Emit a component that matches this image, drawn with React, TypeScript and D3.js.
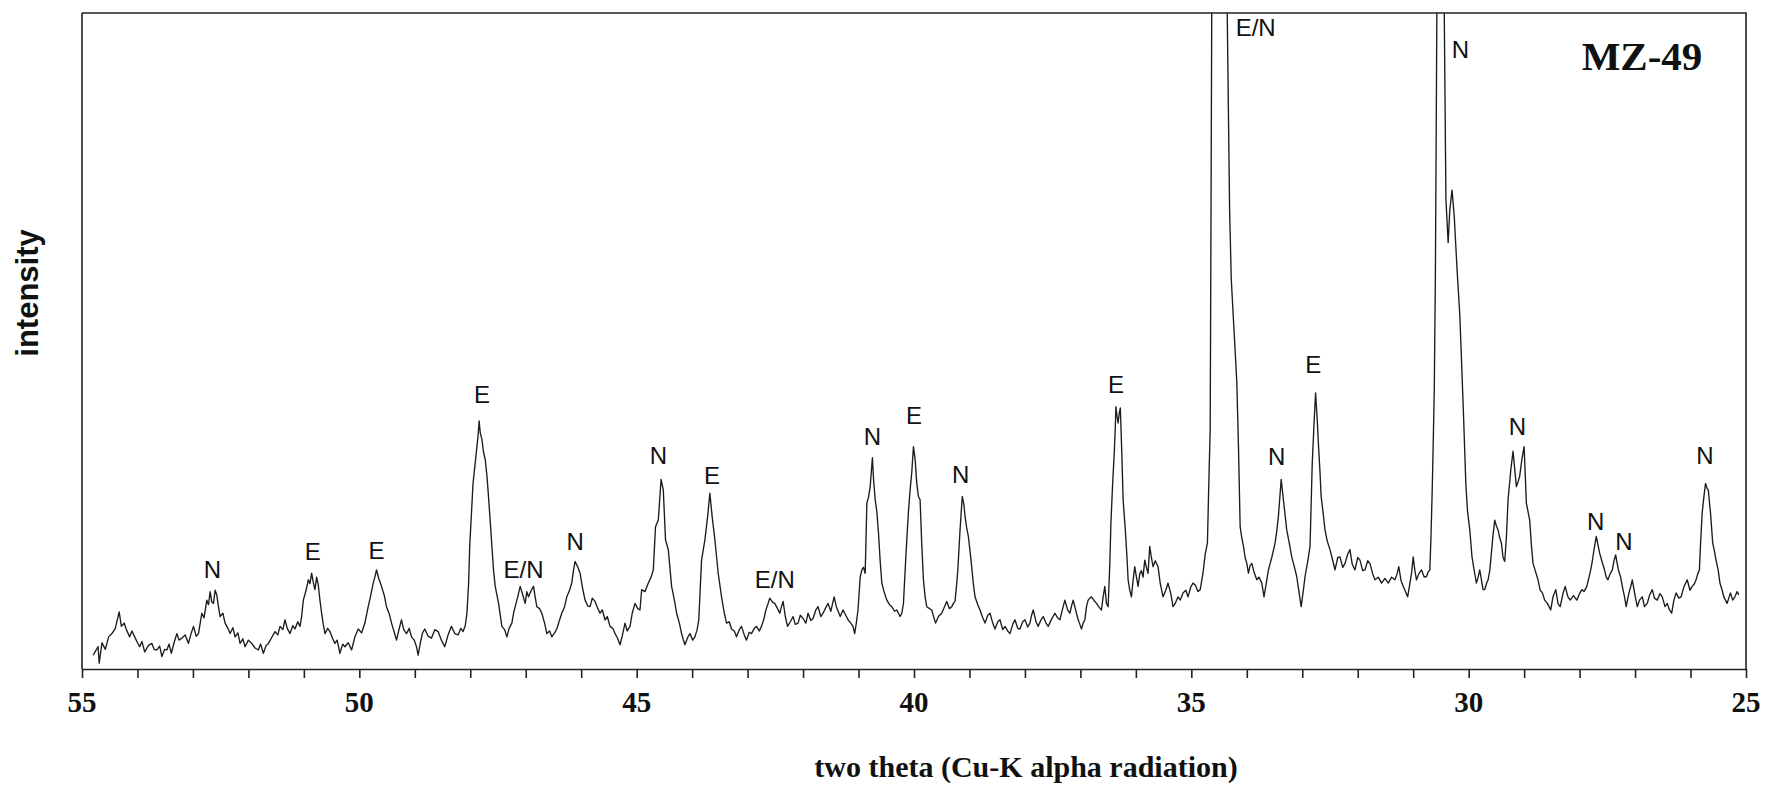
import { useRef, useEffect } from 'react';
import * as d3 from 'd3';

// diffractogram: [two theta, intensity (arb.)]
const scan: [number, number][] = [
  [54.80, 21], [54.71, 34], [54.69, 9], [54.64, 40], [54.58, 30], [54.52, 49], [54.46, 54], [54.40, 62],
  [54.33, 87], [54.29, 65], [54.24, 70], [54.20, 60], [54.14, 49], [54.10, 58], [54.05, 49], [54.00, 40],
  [53.96, 34], [53.92, 42], [53.87, 26], [53.80, 36], [53.74, 39], [53.70, 30], [53.65, 29], [53.60, 35],
  [53.56, 19], [53.51, 30], [53.47, 29], [53.43, 38], [53.39, 24], [53.34, 40], [53.29, 54], [53.25, 44],
  [53.20, 47], [53.14, 52], [53.08, 39], [53.03, 55], [52.99, 65], [52.94, 50], [52.90, 54], [52.84, 85],
  [52.80, 78], [52.75, 105], [52.72, 98], [52.69, 118], [52.66, 102], [52.63, 100], [52.60, 120], [52.57, 113],
  [52.54, 95], [52.51, 80], [52.46, 85], [52.42, 70], [52.37, 62], [52.33, 54], [52.28, 63], [52.24, 49],
  [52.19, 55], [52.15, 39], [52.10, 46], [52.06, 34], [52.00, 44], [51.94, 39], [51.88, 32], [51.82, 29],
  [51.78, 38], [51.73, 24], [51.68, 36], [51.64, 39], [51.58, 48], [51.52, 57], [51.47, 52], [51.43, 65],
  [51.38, 60], [51.34, 75], [51.30, 62], [51.25, 54], [51.20, 66], [51.16, 61], [51.11, 72], [51.07, 65],
  [51.04, 80], [51.01, 105], [50.96, 120], [50.92, 136], [50.89, 130], [50.86, 146], [50.83, 132], [50.80, 121],
  [50.77, 140], [50.74, 128], [50.71, 105], [50.68, 85], [50.65, 68], [50.62, 54], [50.57, 62], [50.53, 57],
  [50.48, 46], [50.44, 39], [50.40, 44], [50.35, 24], [50.30, 38], [50.26, 34], [50.20, 40], [50.14, 29],
  [50.08, 49], [50.02, 61], [49.96, 55], [49.90, 70], [49.84, 95], [49.80, 110], [49.75, 131], [49.72, 140],
  [49.69, 151], [49.65, 138], [49.60, 126], [49.55, 112], [49.51, 95], [49.46, 84], [49.42, 70], [49.37, 56],
  [49.33, 44], [49.28, 62], [49.24, 75], [49.20, 60], [49.15, 54], [49.10, 62], [49.06, 49], [49.01, 44],
  [48.97, 34], [48.94, 21], [48.90, 40], [48.86, 55], [48.82, 61], [48.76, 50], [48.70, 47], [48.64, 60],
  [48.58, 57], [48.52, 44], [48.46, 34], [48.40, 52], [48.34, 65], [48.28, 54], [48.22, 52], [48.17, 62],
  [48.13, 57], [48.09, 66], [48.06, 85], [48.03, 130], [48.01, 187], [47.98, 235], [47.95, 283], [47.91, 315],
  [47.88, 339], [47.86, 355], [47.84, 378], [47.82, 360], [47.79, 350], [47.76, 330], [47.73, 319], [47.70, 295],
  [47.68, 273], [47.64, 225], [47.61, 187], [47.58, 150], [47.55, 126], [47.49, 100], [47.43, 65], [47.38, 60],
  [47.34, 49], [47.30, 62], [47.25, 70], [47.22, 85], [47.19, 95], [47.15, 108], [47.10, 126], [47.05, 112],
  [47.01, 100], [46.98, 118], [46.95, 110], [46.90, 120], [46.86, 126], [46.83, 110], [46.80, 95], [46.75, 92],
  [46.71, 85], [46.66, 70], [46.62, 54], [46.57, 58], [46.53, 49], [46.48, 55], [46.44, 61], [46.40, 72],
  [46.35, 85], [46.30, 95], [46.26, 110], [46.21, 120], [46.17, 131], [46.14, 150], [46.11, 164], [46.06, 155],
  [46.02, 146], [45.98, 125], [45.93, 105], [45.88, 96], [45.84, 95], [45.80, 108], [45.75, 103], [45.70, 92],
  [45.66, 85], [45.62, 90], [45.57, 75], [45.53, 80], [45.48, 65], [45.43, 62], [45.39, 54], [45.35, 48],
  [45.30, 37], [45.26, 50], [45.21, 70], [45.17, 58], [45.12, 65], [45.08, 85], [45.03, 100], [44.98, 92],
  [44.94, 90], [44.91, 121], [44.85, 118], [44.79, 131], [44.74, 140], [44.70, 151], [44.66, 217], [44.61, 227],
  [44.56, 289], [44.52, 273], [44.48, 197], [44.43, 182], [44.37, 126], [44.32, 105], [44.28, 85], [44.23, 70],
  [44.19, 54], [44.16, 45], [44.13, 37], [44.08, 48], [44.04, 54], [43.99, 44], [43.95, 49], [43.91, 60],
  [43.88, 75], [43.83, 166], [43.77, 197], [43.72, 233], [43.68, 268], [43.64, 233], [43.59, 197], [43.53, 146],
  [43.47, 110], [43.42, 85], [43.38, 70], [43.33, 72], [43.29, 61], [43.24, 58], [43.20, 49], [43.15, 60],
  [43.11, 65], [43.06, 52], [43.02, 44], [42.97, 56], [42.93, 54], [42.88, 62], [42.84, 65], [42.79, 58],
  [42.75, 65], [42.71, 75], [42.67, 90], [42.63, 100], [42.60, 108], [42.55, 102], [42.51, 100], [42.46, 92],
  [42.42, 85], [42.39, 95], [42.36, 103], [42.32, 80], [42.28, 65], [42.23, 72], [42.18, 80], [42.14, 68],
  [42.09, 70], [42.05, 82], [42.00, 77], [41.95, 70], [41.91, 85], [41.86, 74], [41.82, 77], [41.77, 90],
  [41.73, 95], [41.68, 80], [41.64, 85], [41.60, 92], [41.55, 100], [41.50, 88], [41.44, 110], [41.40, 95],
  [41.33, 80], [41.28, 90], [41.23, 82], [41.19, 75], [41.14, 70], [41.10, 65], [41.07, 54], [41.04, 70],
  [41.01, 90], [40.97, 140], [40.94, 151], [40.91, 155], [40.88, 146], [40.85, 253], [40.82, 262], [40.79, 278],
  [40.77, 300], [40.75, 322], [40.73, 290], [40.70, 258], [40.67, 240], [40.64, 207], [40.61, 165], [40.58, 131],
  [40.53, 115], [40.49, 105], [40.44, 98], [40.40, 95], [40.35, 88], [40.31, 90], [40.28, 85], [40.25, 80],
  [40.22, 85], [40.19, 100], [40.16, 150], [40.13, 197], [40.10, 240], [40.07, 273], [40.04, 300], [40.01, 339],
  [39.98, 320], [39.95, 283], [39.92, 263], [39.89, 258], [39.86, 190], [39.83, 136], [39.80, 110], [39.77, 95],
  [39.72, 92], [39.68, 90], [39.64, 78], [39.61, 70], [39.56, 80], [39.50, 85], [39.45, 95], [39.41, 103],
  [39.36, 92], [39.32, 95], [39.29, 100], [39.26, 103], [39.23, 130], [39.21, 151], [39.17, 212], [39.13, 263],
  [39.10, 250], [39.08, 233], [39.05, 215], [39.02, 202], [38.99, 180], [38.96, 156], [38.93, 130], [38.90, 110],
  [38.85, 98], [38.81, 90], [38.76, 78], [38.72, 70], [38.67, 82], [38.63, 85], [38.58, 70], [38.54, 61],
  [38.49, 72], [38.45, 75], [38.40, 60], [38.36, 65], [38.31, 58], [38.27, 54], [38.22, 68], [38.18, 75],
  [38.13, 62], [38.09, 61], [38.04, 72], [38.00, 75], [37.95, 64], [37.91, 70], [37.88, 82], [37.85, 90],
  [37.80, 72], [37.76, 65], [37.71, 75], [37.67, 80], [37.62, 70], [37.58, 65], [37.52, 76], [37.46, 85],
  [37.41, 78], [37.37, 75], [37.32, 92], [37.28, 105], [37.23, 90], [37.19, 85], [37.16, 96], [37.13, 105],
  [37.08, 88], [37.04, 75], [37.01, 68], [36.98, 61], [36.95, 70], [36.92, 75], [36.89, 95], [36.86, 105],
  [36.83, 108], [36.80, 110], [36.75, 104], [36.71, 100], [36.66, 94], [36.62, 90], [36.59, 110], [36.56, 126],
  [36.53, 100], [36.50, 95], [36.47, 160], [36.45, 222], [36.42, 280], [36.39, 329], [36.37, 370], [36.36, 400],
  [36.34, 385], [36.32, 375], [36.30, 390], [36.28, 398], [36.25, 320], [36.23, 258], [36.21, 235], [36.19, 212],
  [36.16, 170], [36.14, 136], [36.11, 120], [36.08, 110], [36.05, 135], [36.02, 156], [35.99, 140], [35.96, 126],
  [35.93, 145], [35.90, 150], [35.87, 140], [35.84, 166], [35.81, 155], [35.78, 146], [35.75, 187], [35.72, 170],
  [35.69, 156], [35.65, 165], [35.60, 156], [35.56, 130], [35.51, 110], [35.46, 120], [35.42, 131], [35.37, 115],
  [35.33, 95], [35.29, 100], [35.24, 110], [35.20, 105], [35.15, 116], [35.10, 120], [35.06, 110], [35.01, 125],
  [34.97, 131], [34.93, 128], [34.88, 118], [34.84, 121], [34.79, 146], [34.75, 175], [34.71, 192], [34.68, 300],
  [34.66, 365], [34.645, 700], [34.63, 1050], [34.55, 1500], [34.45, 1500], [34.36, 1050], [34.31, 700], [34.28, 594],
  [34.22, 500], [34.18, 437], [34.15, 339], [34.12, 217], [34.09, 200], [34.06, 187], [34.03, 170], [34.00, 161],
  [33.97, 146], [33.94, 158], [33.91, 161], [33.87, 148], [33.82, 136], [33.78, 140], [33.73, 131], [33.69, 110],
  [33.65, 130], [33.61, 151], [33.55, 170], [33.49, 192], [33.46, 210], [33.43, 233], [33.38, 289], [33.34, 258],
  [33.31, 235], [33.28, 212], [33.23, 190], [33.19, 171], [33.14, 155], [33.10, 141], [33.06, 118], [33.02, 95],
  [32.98, 120], [32.95, 141], [32.90, 165], [32.86, 187], [32.84, 250], [32.82, 314], [32.79, 370], [32.76, 421],
  [32.73, 380], [32.71, 345], [32.68, 300], [32.66, 263], [32.62, 235], [32.59, 212], [32.55, 195], [32.50, 182],
  [32.45, 165], [32.41, 151], [32.36, 170], [32.32, 171], [32.27, 155], [32.23, 161], [32.18, 175], [32.14, 182],
  [32.10, 160], [32.05, 151], [32.00, 170], [31.96, 166], [31.91, 150], [31.87, 151], [31.82, 165], [31.78, 161],
  [31.73, 145], [31.69, 136], [31.63, 140], [31.57, 131], [31.51, 138], [31.45, 131], [31.39, 140], [31.33, 136],
  [31.29, 145], [31.26, 156], [31.22, 135], [31.18, 126], [31.14, 118], [31.10, 110], [31.06, 130], [31.03, 146],
  [31.00, 171], [30.97, 150], [30.94, 136], [30.90, 145], [30.85, 151], [30.80, 140], [30.76, 141], [30.73, 148],
  [30.70, 151], [30.68, 200], [30.66, 263], [30.64, 340], [30.62, 426], [30.60, 600], [30.58, 900], [30.56, 1200],
  [30.50, 1400], [30.46, 1150], [30.44, 1000], [30.41, 716], [30.37, 650], [30.34, 700], [30.30, 730], [30.26, 690],
  [30.21, 610], [30.16, 540], [30.12, 450], [30.09, 380], [30.05, 280], [30.02, 240], [29.98, 212], [29.94, 171],
  [29.90, 150], [29.86, 131], [29.83, 140], [29.80, 151], [29.77, 136], [29.74, 121], [29.71, 121], [29.68, 130],
  [29.65, 136], [29.62, 150], [29.59, 177], [29.56, 205], [29.53, 227], [29.50, 218], [29.47, 212], [29.44, 200],
  [29.41, 192], [29.38, 170], [29.35, 164], [29.32, 200], [29.29, 258], [29.26, 285], [29.24, 304], [29.20, 332],
  [29.17, 305], [29.14, 278], [29.11, 285], [29.08, 294], [29.04, 320], [29.00, 339], [28.96, 253], [28.93, 240],
  [28.90, 227], [28.87, 190], [28.84, 161], [28.80, 150], [28.75, 136], [28.71, 120], [28.67, 116], [28.63, 105],
  [28.58, 100], [28.55, 95], [28.52, 90], [28.48, 110], [28.43, 121], [28.39, 100], [28.35, 95], [28.30, 115],
  [28.26, 126], [28.21, 110], [28.17, 105], [28.11, 112], [28.05, 105], [28.00, 115], [27.96, 121], [27.92, 118],
  [27.87, 126], [27.83, 140], [27.80, 151], [27.77, 165], [27.74, 182], [27.70, 202], [27.67, 190], [27.64, 177],
  [27.60, 165], [27.55, 151], [27.52, 140], [27.49, 136], [27.45, 145], [27.41, 151], [27.38, 165], [27.35, 174],
  [27.32, 160], [27.30, 151], [27.26, 140], [27.23, 126], [27.19, 110], [27.16, 95], [27.13, 108], [27.11, 116],
  [27.08, 125], [27.05, 136], [27.00, 112], [26.96, 95], [26.92, 105], [26.87, 110], [26.83, 95], [26.78, 100],
  [26.74, 112], [26.69, 121], [26.65, 108], [26.60, 105], [26.55, 115], [26.51, 110], [26.46, 95], [26.42, 100],
  [26.38, 90], [26.34, 85], [26.30, 105], [26.26, 116], [26.21, 108], [26.17, 110], [26.12, 125], [26.06, 136],
  [26.01, 120], [25.97, 126], [25.93, 130], [25.90, 136], [25.87, 145], [25.84, 151], [25.82, 190], [25.79, 238],
  [25.76, 262], [25.73, 283], [25.70, 275], [25.68, 273], [25.66, 255], [25.64, 238], [25.62, 215], [25.60, 192],
  [25.57, 180], [25.54, 166], [25.50, 150], [25.47, 131], [25.43, 120], [25.40, 110], [25.37, 105], [25.34, 100],
  [25.31, 108], [25.28, 116], [25.24, 105], [25.20, 110], [25.16, 118], [25.13, 113],
];

// phase labels: [text, two theta, intensity of baseline]
const peakLabels: [string, number, number][] = [
  ['N', 52.65, 138], ['E', 50.84, 166], ['E', 49.69, 167], ['E', 47.79, 406], ['E/N', 47.04, 138],
  ['N', 46.11, 182], ['N', 44.61, 313], ['E', 43.64, 282], ['E/N', 42.51, 123], ['N', 40.75, 342],
  ['E', 40.0, 373], ['N', 39.16, 284], ['E', 36.36, 420], ['E/N', 33.84, 965], ['N', 33.46, 311],
  ['E', 32.8, 451], ['N', 30.15, 932], ['N', 29.12, 357], ['N', 27.71, 212], ['N', 27.2, 182],
  ['N', 25.74, 313],
];

const majorTicks = [55, 50, 45, 40, 35, 30, 25];
const sampleName = 'MZ-49';
const xTitle = 'two theta (Cu-K alpha radiation)';
const yTitle = 'intensity';

export default function App() {
  const svgRef = useRef<SVGSVGElement>(null);

  useEffect(() => {
    const width = 1769;
    const height = 785;
    const margin = { top: 13, right: 23, bottom: 116, left: 82 };

    const svg = d3.select(svgRef.current);
    svg.selectAll('*').remove();

    const x = d3.scaleLinear()
      .domain([55, 25])
      .range([margin.left, width - margin.right]);

    const y = d3.scaleLinear()
      .domain([0, 1000])
      .range([height - margin.bottom, margin.top]);

    const bottom = height - margin.bottom;

    svg.append('defs').append('clipPath')
      .attr('id', 'plot-clip')
      .append('rect')
      .attr('x', margin.left)
      .attr('y', margin.top)
      .attr('width', width - margin.left - margin.right)
      .attr('height', bottom - margin.top);

    // frame: top and right edges
    svg.append('path')
      .attr('d', `M${margin.left},${margin.top}H${width - margin.right}V${bottom}`)
      .attr('fill', 'none')
      .attr('stroke', '#222')
      .attr('stroke-width', 1.6);

    // y axis line (no ticks)
    svg.append('line')
      .attr('x1', margin.left).attr('x2', margin.left)
      .attr('y1', margin.top).attr('y2', bottom)
      .attr('stroke', '#222')
      .attr('stroke-width', 1.6);

    // x axis with a tick every degree
    const xAxis = svg.append('g')
      .attr('transform', `translate(0,${bottom})`)
      .call(d3.axisBottom(x).tickValues(d3.range(25, 56, 1)).tickSize(9).tickSizeOuter(0).tickFormat(() => ''));
    xAxis.select('.domain').attr('stroke', '#222').attr('stroke-width', 1.6);
    xAxis.selectAll('.tick line').attr('stroke', '#222').attr('stroke-width', 1.6);

    svg.append('g')
      .selectAll('text')
      .data(majorTicks)
      .join('text')
      .attr('x', d => x(d))
      .attr('y', bottom + 43)
      .attr('text-anchor', 'middle')
      .attr('font-family', '"Liberation Serif", "Times New Roman", serif')
      .attr('font-weight', 'bold')
      .attr('font-size', 29)
      .attr('fill', '#111')
      .text(d => d);

    // the scan
    const line = d3.line<[number, number]>()
      .x(d => x(d[0]))
      .y(d => y(d[1]));

    svg.append('path')
      .datum(scan)
      .attr('clip-path', 'url(#plot-clip)')
      .attr('d', line)
      .attr('fill', 'none')
      .attr('stroke', '#1c1c1c')
      .attr('stroke-width', 1.35)
      .attr('stroke-linejoin', 'round');

    // peak labels
    svg.append('g')
      .selectAll('text')
      .data(peakLabels)
      .join('text')
      .attr('x', d => x(d[1]))
      .attr('y', d => y(d[2]))
      .attr('text-anchor', 'middle')
      .attr('font-family', '"Liberation Sans", Arial, sans-serif')
      .attr('font-size', 24)
      .attr('fill', '#111')
      .text(d => d[0]);

    svg.append('text')
      .attr('x', width - margin.right - 104)
      .attr('y', 70)
      .attr('text-anchor', 'middle')
      .attr('font-family', '"Liberation Serif", "Times New Roman", serif')
      .attr('font-weight', 'bold')
      .attr('font-size', 41)
      .attr('fill', '#111')
      .text(sampleName);

    svg.append('text')
      .attr('x', 1026)
      .attr('y', 777)
      .attr('text-anchor', 'middle')
      .attr('font-family', '"Liberation Serif", "Times New Roman", serif')
      .attr('font-weight', 'bold')
      .attr('font-size', 30)
      .attr('fill', '#111')
      .text(xTitle);

    svg.append('text')
      .attr('transform', `translate(38,${(margin.top + bottom) / 2 - 48}) rotate(-90)`)
      .attr('text-anchor', 'middle')
      .attr('font-family', '"Liberation Sans", Arial, sans-serif')
      .attr('font-weight', 'bold')
      .attr('font-size', 31)
      .attr('fill', '#111')
      .text(yTitle);
  }, []);

  return (
    <svg
      ref={svgRef}
      width={1769}
      height={785}
      style={{ position: 'absolute', left: 0, top: 0, background: '#fff' }}
    />
  );
}
